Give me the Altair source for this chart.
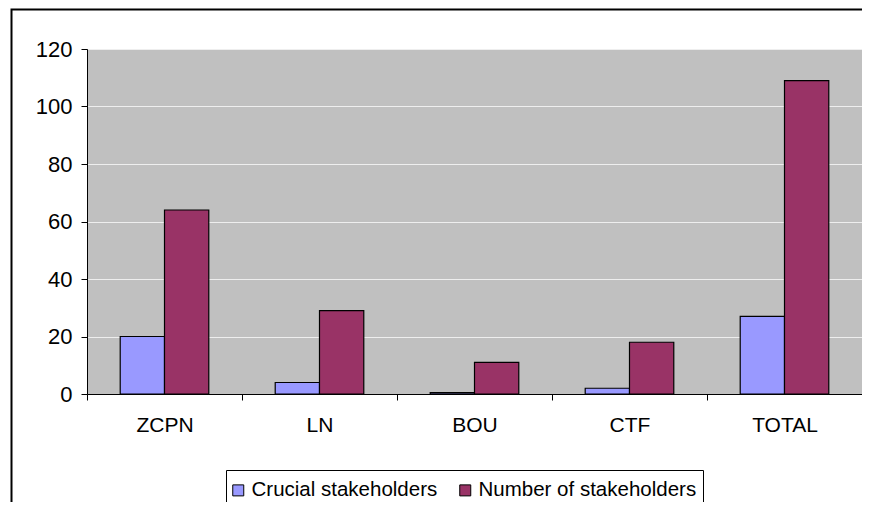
import altair as alt
import pandas as pd

categories = ["ZCPN", "LN", "BOU", "CTF", "TOTAL"]
crucial = [20, 4, 0.5, 2, 27]
number = [64, 29, 11, 18, 109]
series = ["Crucial stakeholders", "Number of stakeholders"]
colors = ["#9999FF", "#993366"]
y_ticks = [0, 20, 40, 60, 80, 100, 120]

rows = []
for i, c in enumerate(categories):
    rows.append({"category": c, "series": series[0], "value": crucial[i]})
    rows.append({"category": c, "series": series[1], "value": number[i]})
df = pd.DataFrame(rows)

W, H = 775, 345
FONT = "Liberation Sans"

bars = alt.Chart(df).mark_bar(stroke="black", strokeWidth=1.2).encode(
    x=alt.X(
        "category:N", sort=categories,
        scale=alt.Scale(paddingInner=0, paddingOuter=0),
        axis=alt.Axis(title=None, labelAngle=0, tickBand="extent", tickSize=6,
                      tickColor="black", domainColor="black", labelFontSize=21,
                      labelPadding=14, labelColor="black", labelFont=FONT, grid=False),
    ),
    xOffset=alt.XOffset("series:N", sort=series,
                        scale=alt.Scale(paddingInner=0, paddingOuter=0.75)),
    y=alt.Y(
        "value:Q", scale=alt.Scale(domain=[0, 120]),
        axis=alt.Axis(values=y_ticks, title=None, tickSize=6, tickColor="black",
                      domainColor="black", labelFontSize=22, labelPadding=9,
                      labelColor="black", labelFont=FONT, gridColor="#EEEEEE",
                      gridWidth=1),
    ),
    color=alt.Color(
        "series:N", sort=series,
        scale=alt.Scale(domain=series, range=colors),
        legend=alt.Legend(orient="none", legendX=141, legendY=431,
                          direction="horizontal", title=None, labelFontSize=20.5,
                          labelFont=FONT, labelColor="black", symbolType="square",
                          symbolSize=121, symbolStrokeColor="black",
                          symbolStrokeWidth=1, padding=0, columnPadding=17,
                          labelOffset=3, labelLimit=400),
    ),
)

frame = alt.Chart(pd.DataFrame({"f": [0]})).mark_rect(
    fillOpacity=0, stroke="black", strokeWidth=2
).encode(
    x=alt.value(-75.5), x2=alt.value(W + 30),
    y=alt.value(-39.5), y2=alt.value(H + 200),
)

legend_box = alt.Chart(pd.DataFrame({"f": [0]})).mark_rect(
    fill="white", stroke="black", strokeWidth=1
).encode(
    x=alt.value(139.5), x2=alt.value(616.5),
    y=alt.value(421.5), y2=alt.value(462.5),
)

chart = alt.layer(frame, legend_box, bars).properties(
    width=W, height=H,
    padding={"left": 79, "top": 41, "right": 0, "bottom": 108},
    autosize=alt.AutoSizeParams(type="none"),
).configure_view(
    fill="#C0C0C0", stroke="#808080", strokeWidth=1
)

chart.save("out.html", embed_options={"renderer": "svg", "actions": False})
